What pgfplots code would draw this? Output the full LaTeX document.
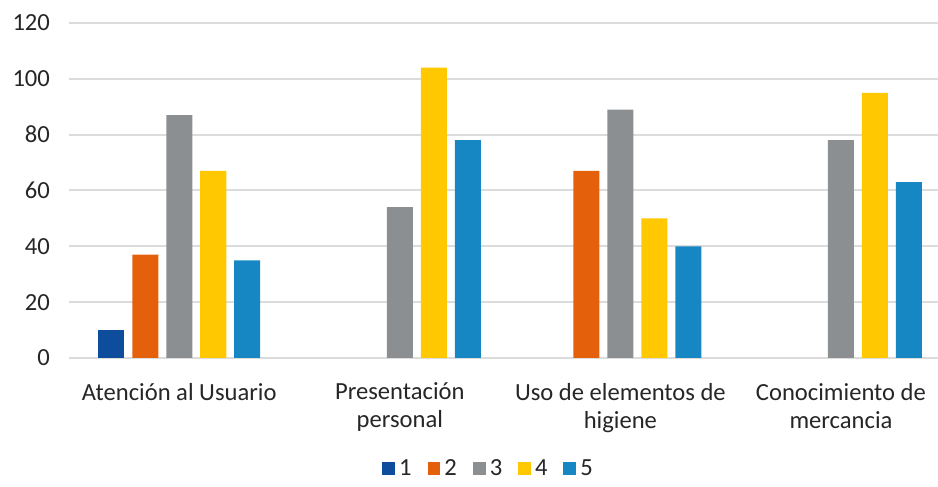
\documentclass[border=0pt]{standalone}
\usepackage{fontspec}
\setmainfont{Carlito}
\usepackage{pgfplots}
\pgfplotsset{compat=1.18}
\definecolor{c1}{HTML}{0E4D9C}
\definecolor{c2}{HTML}{E5600A}
\definecolor{c3}{HTML}{8C8F92}
\definecolor{c4}{HTML}{FFC800}
\definecolor{c5}{HTML}{1787C4}
\definecolor{gridc}{HTML}{DCDCDC}
\definecolor{txt}{HTML}{262626}
\begin{document}
\begin{tikzpicture}
\path[use as bounding box] (-34.5pt,-64.5pt) rectangle (434.5pt,179pt);
\begin{axis}[
  at={(0pt,0pt)}, anchor=south west,
  scale only axis, width=434.5pt, height=167.5pt,
  xmin=-0.5, xmax=3.44, ymin=0, ymax=120,
  ytick={0,20,...,120},
  xtick={0,1,2,3},
  xticklabels={Atención al Usuario, Presentación\\personal, Uso de elementos de\\higiene, Conocimiento de\\mercancia},
  axis line style={draw=none},
  major tick length=0pt,
  ymajorgrids, grid style={draw=gridc, line width=1pt},
  /pgf/number format/assume math mode=true,
  font=\fontsize{12.3}{14}\selectfont,
  tick label style={text=txt, font=\fontsize{12.3}{14}\selectfont},
  xticklabel style={align=center, yshift=-9pt},
  yticklabel style={xshift=-6pt},
  legend columns=5,
  legend style={draw=none, at={(0.484,-0.331)}, anchor=center, font=\fontsize{12.3}{14}\selectfont, text=txt,
    /tikz/every even column/.append style={column sep=6pt}},
  legend image code/.code={\draw[#1,draw=none] (0pt,-3.2pt) rectangle (6.4pt,3.2pt);},
]
\addplot[ybar, bar width=0.118, bar shift=-0.308, fill=c1, draw=none] coordinates {(0,10)};
\addplot[ybar, bar width=0.118, bar shift=-0.154, fill=c2, draw=none] coordinates {(0,37) (2,67)};
\addplot[ybar, bar width=0.118, bar shift=0, fill=c3, draw=none] coordinates {(0,87) (1,54) (2,89) (3,78)};
\addplot[ybar, bar width=0.118, bar shift=0.154, fill=c4, draw=none] coordinates {(0,67) (1,104) (2,50) (3,95)};
\addplot[ybar, bar width=0.118, bar shift=0.308, fill=c5, draw=none] coordinates {(0,35) (1,78) (2,40) (3,63)};
\legend{1,2,3,4,5}
\end{axis}
\end{tikzpicture}
\end{document}
